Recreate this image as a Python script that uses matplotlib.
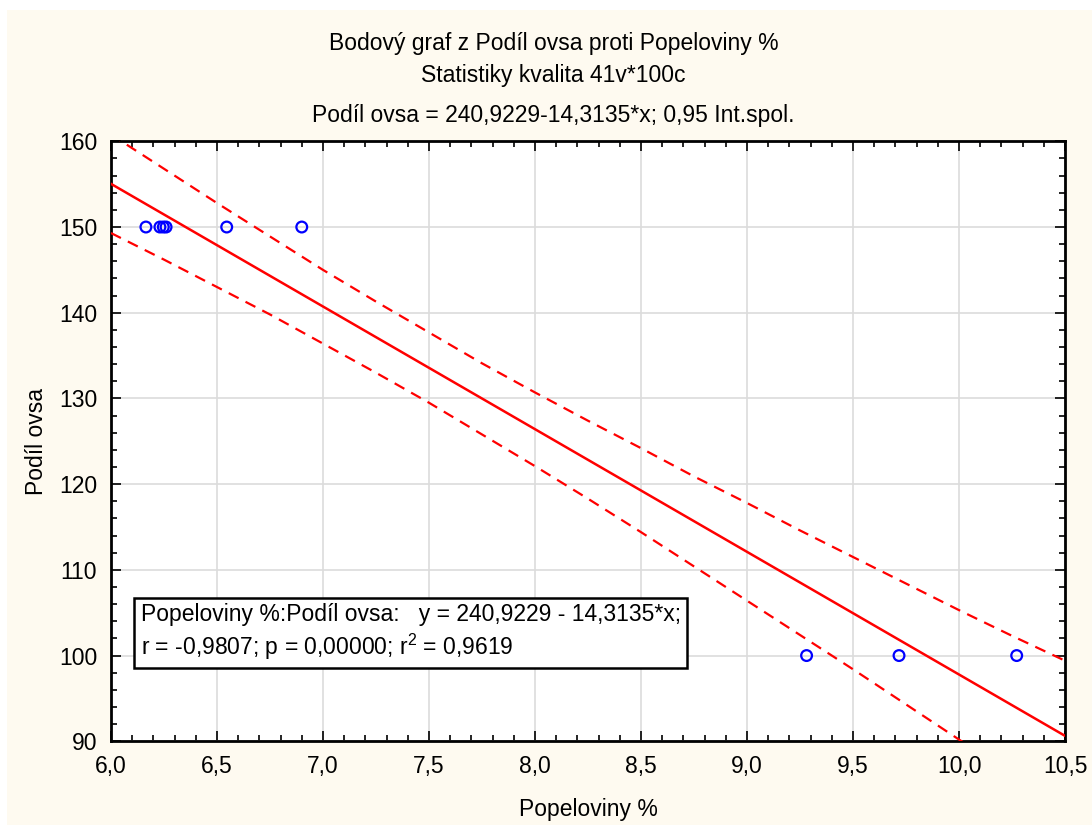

# -*- coding: utf-8 -*-
"""
scatter of oat share vs ash content, linear fit with 0.95 band
"""

import matplotlib
matplotlib.use( "Agg" )
import matplotlib.pyplot as plt
from   matplotlib.patches import Rectangle
from   matplotlib.ticker import MultipleLocator, FuncFormatter

plt.rcParams['font.family']      = ['Liberation Sans', 'DejaVu Sans']
plt.rcParams['mathtext.default'] = 'regular'

# --------- data
pts_x       = [ 6.165, 6.231, 6.247, 6.260, 6.546, 6.900, 9.281, 9.717, 10.272 ]
pts_y       = [ 150, 150, 150, 150, 150, 150, 100, 100, 100 ]

fit_a       = 240.9229       # intercept
fit_b       = -14.3135       # slope
fit_x       = [ 6.0, 10.5 ]

band_x      = [ 6.0, 6.25, 6.5, 6.75, 7.0, 7.25, 7.5, 7.75, 8.0, 8.25,
                8.5, 8.75, 9.0, 9.25, 9.5, 9.75, 10.0, 10.25, 10.5 ]
band_upper  = [ 160.8, 156.8, 152.8, 148.9, 145.0, 141.3, 137.7, 134.1, 130.7, 127.4,
                124.2, 120.9, 117.8, 114.6, 111.5, 108.4, 105.3, 102.3, 99.4 ]
band_lower  = [ 149.3, 146.2, 143.0, 139.8, 136.4, 133.0, 129.5, 125.8, 122.1, 118.3,
                114.4, 110.4, 106.4, 102.4, 98.4, 94.3, 90.2, 86.2, 81.8 ]

title_lines = [ "Bodový graf z Podíl ovsa proti Popeloviny %",
                "Statistiky kvalita 41v*100c",
                "Podíl ovsa = 240,9229-14,3135*x; 0,95 Int.spol." ]
box_text    = ( "Popeloviny %:Podíl ovsa:   y = 240,9229 - 14,3135*x;\n"
                "r = -0,9807; p = 0,00000; r$^2$ = 0,9619" )

cream       = "#FEFAF0"
font_size   = 16.5

# --------- figure
fig = plt.figure( figsize = ( 10.92, 8.25 ), dpi = 100, facecolor = "white" )
fig.patches.append( Rectangle( ( 7 / 1092, 0 ), 1, 1 - 10 / 825, transform = fig.transFigure,
                               facecolor = cream, edgecolor = "none", zorder = -10 ) )

ax = fig.add_axes( [ 0.1016, 0.1015, 0.9753 - 0.1016, 0.8287 - 0.1015 ] )
ax.set_facecolor( "white" )

fit_y = [ fit_a + fit_b * x for x in fit_x ]
ax.plot( fit_x, fit_y, color = "#FF0000", linewidth = 1.8, zorder = 3 )
ax.plot( band_x, band_upper, color = "#FF0000", linewidth = 1.6, linestyle = ( 0, ( 5, 3.5 ) ), zorder = 3 )
ax.plot( band_x, band_lower, color = "#FF0000", linewidth = 1.6, linestyle = ( 0, ( 5, 3.5 ) ), zorder = 3 )
ax.scatter( pts_x, pts_y, s = 60, facecolors = "none", edgecolors = "#0000FF", linewidths = 1.6, zorder = 4 )

ax.set_xlim( 6.0, 10.5 )
ax.set_ylim( 90, 160 )

ax.xaxis.set_major_locator( MultipleLocator( 0.5 ) )
ax.xaxis.set_minor_locator( MultipleLocator( 0.1 ) )
ax.yaxis.set_major_locator( MultipleLocator( 10 ) )
ax.yaxis.set_minor_locator( MultipleLocator( 2 ) )
ax.xaxis.set_major_formatter( FuncFormatter( lambda v, p: f"{v:.1f}".replace( ".", "," ) ) )
ax.yaxis.set_major_formatter( FuncFormatter( lambda v, p: f"{v:.0f}" ) )

ax.grid( which = "major", color = "#DCDCDC", linewidth = 1.2, zorder = 0 )
ax.set_axisbelow( True )
ax.tick_params( which = "both", direction = "in", top = True, right = True, width = 1.2, color = "black" )
ax.tick_params( which = "major", length = 7, labelsize = font_size, pad = 10 )
ax.tick_params( which = "minor", length = 4 )
for sp in ax.spines.values():
    sp.set_linewidth( 2.0 )
    sp.set_color( "black" )

ax.set_xlabel( "Popeloviny %", fontsize = font_size, labelpad = 14 )
ax.set_ylabel( "Podíl ovsa", fontsize = font_size, labelpad = 8 )

# three title lines
for i_line, y_pos in zip( title_lines, [ 0.947, 0.909, 0.860 ] ):
    fig.text( 0.507, y_pos, i_line, ha = "center", va = "center", fontsize = font_size )

ax.text( 0.031, 0.182, box_text, transform = ax.transAxes, fontsize = font_size, linespacing = 1.25,
         ha = "left", va = "center",
         bbox = dict( boxstyle = "square,pad=0.3", facecolor = "white", edgecolor = "black", linewidth = 1.8 ),
         zorder = 5 )

fig.savefig( "out.png", dpi = 100, facecolor = fig.get_facecolor() )
